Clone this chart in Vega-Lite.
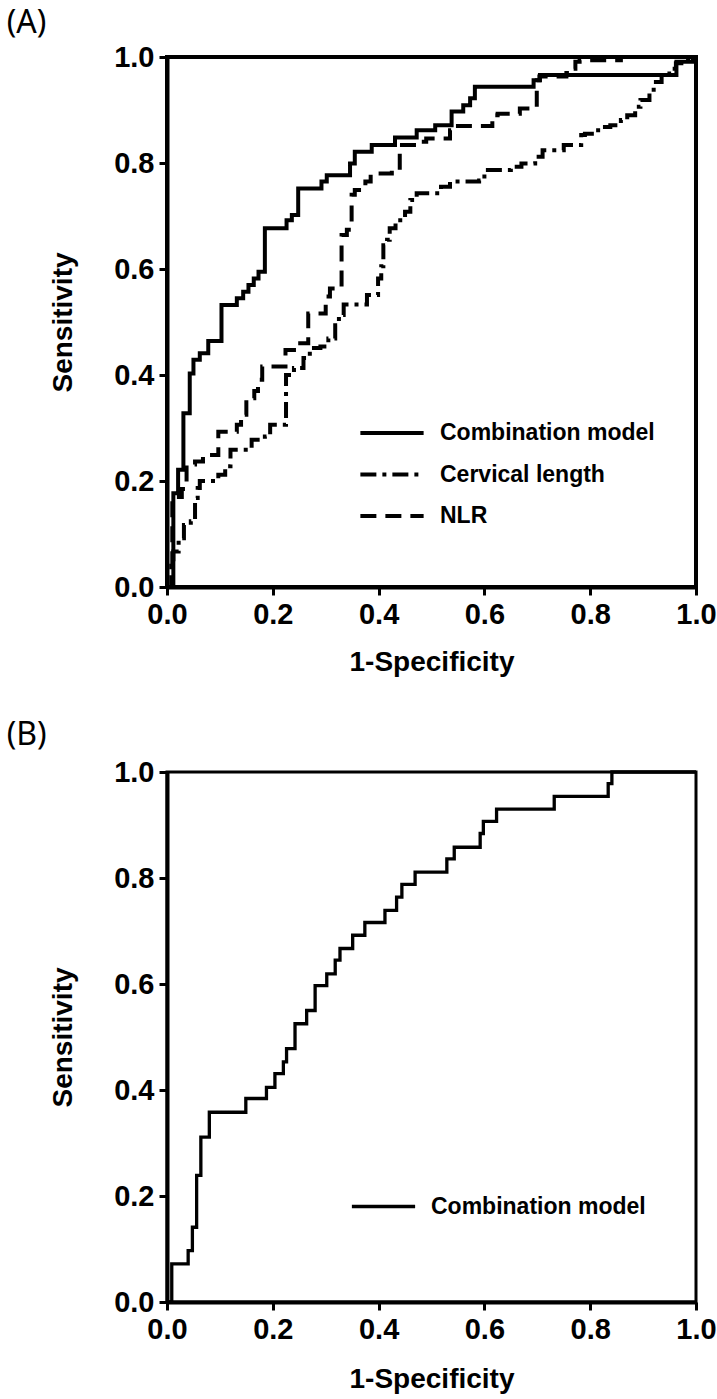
{
  "$schema": "https://vega.github.io/schema/vega-lite/v6.json",
  "background": "white",
  "padding": {"left": 4, "top": 5, "right": 5, "bottom": 0},
  "spacing": 39,
  "config": {
    "view": {"stroke": "black", "strokeWidth": 4},
    "axis": {"domainColor": "black", "domainWidth": 4, "tickColor": "black", "tickWidth": 3, "tickSize": 8, "labelFont": "Liberation Sans", "labelFontWeight": "bold", "labelFontSize": 29, "labelColor": "black", "labelPadding": 5, "titleFont": "Liberation Sans", "titleFontWeight": "bold", "titleFontSize": 28, "titleColor": "black", "grid": false},
    "legend": {"padding": 0}
  },
  "datasets": {
    "A": [
      {"series": "Combination model", "fpr": 0, "tpr": 0},
      {"series": "Combination model", "fpr": 0.012, "tpr": 0.177},
      {"series": "Combination model", "fpr": 0.021, "tpr": 0.221},
      {"series": "Combination model", "fpr": 0.031, "tpr": 0.328},
      {"series": "Combination model", "fpr": 0.043, "tpr": 0.403},
      {"series": "Combination model", "fpr": 0.05, "tpr": 0.429},
      {"series": "Combination model", "fpr": 0.062, "tpr": 0.441},
      {"series": "Combination model", "fpr": 0.078, "tpr": 0.464},
      {"series": "Combination model", "fpr": 0.103, "tpr": 0.532},
      {"series": "Combination model", "fpr": 0.132, "tpr": 0.545},
      {"series": "Combination model", "fpr": 0.144, "tpr": 0.557},
      {"series": "Combination model", "fpr": 0.154, "tpr": 0.57},
      {"series": "Combination model", "fpr": 0.164, "tpr": 0.582},
      {"series": "Combination model", "fpr": 0.173, "tpr": 0.595},
      {"series": "Combination model", "fpr": 0.185, "tpr": 0.677},
      {"series": "Combination model", "fpr": 0.226, "tpr": 0.692},
      {"series": "Combination model", "fpr": 0.236, "tpr": 0.702},
      {"series": "Combination model", "fpr": 0.248, "tpr": 0.752},
      {"series": "Combination model", "fpr": 0.292, "tpr": 0.765},
      {"series": "Combination model", "fpr": 0.302, "tpr": 0.777},
      {"series": "Combination model", "fpr": 0.346, "tpr": 0.799},
      {"series": "Combination model", "fpr": 0.355, "tpr": 0.821},
      {"series": "Combination model", "fpr": 0.387, "tpr": 0.834},
      {"series": "Combination model", "fpr": 0.431, "tpr": 0.848},
      {"series": "Combination model", "fpr": 0.472, "tpr": 0.862},
      {"series": "Combination model", "fpr": 0.507, "tpr": 0.871},
      {"series": "Combination model", "fpr": 0.538, "tpr": 0.897},
      {"series": "Combination model", "fpr": 0.56, "tpr": 0.909},
      {"series": "Combination model", "fpr": 0.573, "tpr": 0.922},
      {"series": "Combination model", "fpr": 0.582, "tpr": 0.944},
      {"series": "Combination model", "fpr": 0.693, "tpr": 0.956},
      {"series": "Combination model", "fpr": 0.705, "tpr": 0.966},
      {"series": "Combination model", "fpr": 0.963, "tpr": 0.991},
      {"series": "Combination model", "fpr": 0.994, "tpr": 1},
      {"series": "Combination model", "fpr": 1, "tpr": 1},
      {"series": "Cervical length", "fpr": 0, "tpr": 0},
      {"series": "Cervical length", "fpr": 0.008, "tpr": 0.04},
      {"series": "Cervical length", "fpr": 0.012, "tpr": 0.067},
      {"series": "Cervical length", "fpr": 0.022, "tpr": 0.092},
      {"series": "Cervical length", "fpr": 0.032, "tpr": 0.117},
      {"series": "Cervical length", "fpr": 0.045, "tpr": 0.124},
      {"series": "Cervical length", "fpr": 0.053, "tpr": 0.168},
      {"series": "Cervical length", "fpr": 0.058, "tpr": 0.187},
      {"series": "Cervical length", "fpr": 0.062, "tpr": 0.2},
      {"series": "Cervical length", "fpr": 0.097, "tpr": 0.212},
      {"series": "Cervical length", "fpr": 0.11, "tpr": 0.228},
      {"series": "Cervical length", "fpr": 0.12, "tpr": 0.259},
      {"series": "Cervical length", "fpr": 0.16, "tpr": 0.278},
      {"series": "Cervical length", "fpr": 0.185, "tpr": 0.284},
      {"series": "Cervical length", "fpr": 0.195, "tpr": 0.306},
      {"series": "Cervical length", "fpr": 0.225, "tpr": 0.4},
      {"series": "Cervical length", "fpr": 0.24, "tpr": 0.413},
      {"series": "Cervical length", "fpr": 0.258, "tpr": 0.432},
      {"series": "Cervical length", "fpr": 0.27, "tpr": 0.451},
      {"series": "Cervical length", "fpr": 0.29, "tpr": 0.454},
      {"series": "Cervical length", "fpr": 0.305, "tpr": 0.469},
      {"series": "Cervical length", "fpr": 0.318, "tpr": 0.494},
      {"series": "Cervical length", "fpr": 0.325, "tpr": 0.513},
      {"series": "Cervical length", "fpr": 0.334, "tpr": 0.533},
      {"series": "Cervical length", "fpr": 0.378, "tpr": 0.551},
      {"series": "Cervical length", "fpr": 0.399, "tpr": 0.582},
      {"series": "Cervical length", "fpr": 0.405, "tpr": 0.605},
      {"series": "Cervical length", "fpr": 0.409, "tpr": 0.645},
      {"series": "Cervical length", "fpr": 0.416, "tpr": 0.655},
      {"series": "Cervical length", "fpr": 0.421, "tpr": 0.677},
      {"series": "Cervical length", "fpr": 0.432, "tpr": 0.692},
      {"series": "Cervical length", "fpr": 0.45, "tpr": 0.708},
      {"series": "Cervical length", "fpr": 0.46, "tpr": 0.73},
      {"series": "Cervical length", "fpr": 0.472, "tpr": 0.743},
      {"series": "Cervical length", "fpr": 0.518, "tpr": 0.755},
      {"series": "Cervical length", "fpr": 0.535, "tpr": 0.765},
      {"series": "Cervical length", "fpr": 0.59, "tpr": 0.767},
      {"series": "Cervical length", "fpr": 0.6, "tpr": 0.787},
      {"series": "Cervical length", "fpr": 0.65, "tpr": 0.793},
      {"series": "Cervical length", "fpr": 0.67, "tpr": 0.799},
      {"series": "Cervical length", "fpr": 0.696, "tpr": 0.812},
      {"series": "Cervical length", "fpr": 0.71, "tpr": 0.824},
      {"series": "Cervical length", "fpr": 0.75, "tpr": 0.834},
      {"series": "Cervical length", "fpr": 0.783, "tpr": 0.853},
      {"series": "Cervical length", "fpr": 0.79, "tpr": 0.855},
      {"series": "Cervical length", "fpr": 0.815, "tpr": 0.868},
      {"series": "Cervical length", "fpr": 0.838, "tpr": 0.871},
      {"series": "Cervical length", "fpr": 0.858, "tpr": 0.881},
      {"series": "Cervical length", "fpr": 0.87, "tpr": 0.89},
      {"series": "Cervical length", "fpr": 0.885, "tpr": 0.906},
      {"series": "Cervical length", "fpr": 0.895, "tpr": 0.919},
      {"series": "Cervical length", "fpr": 0.912, "tpr": 0.934},
      {"series": "Cervical length", "fpr": 0.92, "tpr": 0.953},
      {"series": "Cervical length", "fpr": 0.935, "tpr": 0.969},
      {"series": "Cervical length", "fpr": 0.953, "tpr": 0.978},
      {"series": "Cervical length", "fpr": 0.962, "tpr": 0.988},
      {"series": "Cervical length", "fpr": 0.985, "tpr": 1},
      {"series": "Cervical length", "fpr": 1, "tpr": 1},
      {"series": "NLR", "fpr": 0, "tpr": 0},
      {"series": "NLR", "fpr": 0.01, "tpr": 0.17},
      {"series": "NLR", "fpr": 0.028, "tpr": 0.185},
      {"series": "NLR", "fpr": 0.037, "tpr": 0.231},
      {"series": "NLR", "fpr": 0.053, "tpr": 0.237},
      {"series": "NLR", "fpr": 0.068, "tpr": 0.249},
      {"series": "NLR", "fpr": 0.097, "tpr": 0.293},
      {"series": "NLR", "fpr": 0.132, "tpr": 0.306},
      {"series": "NLR", "fpr": 0.14, "tpr": 0.325},
      {"series": "NLR", "fpr": 0.15, "tpr": 0.356},
      {"series": "NLR", "fpr": 0.165, "tpr": 0.37},
      {"series": "NLR", "fpr": 0.172, "tpr": 0.391},
      {"series": "NLR", "fpr": 0.18, "tpr": 0.416},
      {"series": "NLR", "fpr": 0.224, "tpr": 0.447},
      {"series": "NLR", "fpr": 0.24, "tpr": 0.46},
      {"series": "NLR", "fpr": 0.267, "tpr": 0.516},
      {"series": "NLR", "fpr": 0.3, "tpr": 0.548},
      {"series": "NLR", "fpr": 0.308, "tpr": 0.563},
      {"series": "NLR", "fpr": 0.33, "tpr": 0.664},
      {"series": "NLR", "fpr": 0.34, "tpr": 0.674},
      {"series": "NLR", "fpr": 0.349, "tpr": 0.74},
      {"series": "NLR", "fpr": 0.355, "tpr": 0.749},
      {"series": "NLR", "fpr": 0.375, "tpr": 0.765},
      {"series": "NLR", "fpr": 0.385, "tpr": 0.78},
      {"series": "NLR", "fpr": 0.425, "tpr": 0.787},
      {"series": "NLR", "fpr": 0.44, "tpr": 0.834},
      {"series": "NLR", "fpr": 0.475, "tpr": 0.84},
      {"series": "NLR", "fpr": 0.49, "tpr": 0.846},
      {"series": "NLR", "fpr": 0.535, "tpr": 0.862},
      {"series": "NLR", "fpr": 0.55, "tpr": 0.87},
      {"series": "NLR", "fpr": 0.615, "tpr": 0.89},
      {"series": "NLR", "fpr": 0.625, "tpr": 0.893},
      {"series": "NLR", "fpr": 0.667, "tpr": 0.903},
      {"series": "NLR", "fpr": 0.699, "tpr": 0.956},
      {"series": "NLR", "fpr": 0.704, "tpr": 0.963},
      {"series": "NLR", "fpr": 0.755, "tpr": 0.97},
      {"series": "NLR", "fpr": 0.765, "tpr": 0.978},
      {"series": "NLR", "fpr": 0.772, "tpr": 0.991},
      {"series": "NLR", "fpr": 0.78, "tpr": 0.994},
      {"series": "NLR", "fpr": 0.858, "tpr": 1},
      {"series": "NLR", "fpr": 1, "tpr": 1}
    ],
    "B": [
      {"series": "Combination model", "fpr": 0, "tpr": 0},
      {"series": "Combination model", "fpr": 0.009, "tpr": 0.072},
      {"series": "Combination model", "fpr": 0.04, "tpr": 0.097},
      {"series": "Combination model", "fpr": 0.048, "tpr": 0.141},
      {"series": "Combination model", "fpr": 0.056, "tpr": 0.239},
      {"series": "Combination model", "fpr": 0.064, "tpr": 0.311},
      {"series": "Combination model", "fpr": 0.08, "tpr": 0.358},
      {"series": "Combination model", "fpr": 0.149, "tpr": 0.384},
      {"series": "Combination model", "fpr": 0.188, "tpr": 0.405},
      {"series": "Combination model", "fpr": 0.204, "tpr": 0.431},
      {"series": "Combination model", "fpr": 0.22, "tpr": 0.453},
      {"series": "Combination model", "fpr": 0.226, "tpr": 0.478},
      {"series": "Combination model", "fpr": 0.242, "tpr": 0.525},
      {"series": "Combination model", "fpr": 0.264, "tpr": 0.55},
      {"series": "Combination model", "fpr": 0.28, "tpr": 0.597},
      {"series": "Combination model", "fpr": 0.302, "tpr": 0.619},
      {"series": "Combination model", "fpr": 0.318, "tpr": 0.645},
      {"series": "Combination model", "fpr": 0.327, "tpr": 0.667},
      {"series": "Combination model", "fpr": 0.351, "tpr": 0.692},
      {"series": "Combination model", "fpr": 0.374, "tpr": 0.716},
      {"series": "Combination model", "fpr": 0.412, "tpr": 0.739},
      {"series": "Combination model", "fpr": 0.434, "tpr": 0.764},
      {"series": "Combination model", "fpr": 0.444, "tpr": 0.788},
      {"series": "Combination model", "fpr": 0.469, "tpr": 0.811},
      {"series": "Combination model", "fpr": 0.529, "tpr": 0.836},
      {"series": "Combination model", "fpr": 0.543, "tpr": 0.858},
      {"series": "Combination model", "fpr": 0.592, "tpr": 0.884},
      {"series": "Combination model", "fpr": 0.598, "tpr": 0.907},
      {"series": "Combination model", "fpr": 0.623, "tpr": 0.93},
      {"series": "Combination model", "fpr": 0.732, "tpr": 0.954},
      {"series": "Combination model", "fpr": 0.834, "tpr": 0.978},
      {"series": "Combination model", "fpr": 0.841, "tpr": 1},
      {"series": "Combination model", "fpr": 1, "tpr": 1}
    ]
  },
  "resolve": {"scale": {"x": "independent", "y": "independent", "strokeDash": "independent"}, "legend": {"strokeDash": "independent"}},
  "vconcat": [
    {
      "title": {"text": "(A)", "anchor": "start", "frame": "bounds", "font": "Noto Sans", "fontSize": 32, "fontWeight": "normal", "color": "black", "dx": -43, "offset": 3},
      "width": 529,
      "height": 530,
      "data": {"name": "A"},
      "mark": {"type": "line", "interpolate": "step-after", "color": "black", "strokeWidth": 4, "strokeCap": "butt", "strokeJoin": "miter"},
      "encoding": {
        "x": {"field": "fpr", "type": "quantitative", "scale": {"domain": [0, 1], "nice": false}, "axis": {"values": [0, 0.2, 0.4, 0.6, 0.8, 1], "format": ".1f", "labelFlush": false, "title": "1-Specificity", "titlePadding": 19}},
        "y": {"field": "tpr", "type": "quantitative", "scale": {"domain": [0, 1], "nice": false}, "axis": {"values": [0, 0.2, 0.4, 0.6, 0.8, 1], "format": ".1f", "labelFlush": false, "title": "Sensitivity", "titlePadding": 36}},
        "strokeDash": {"field": "series", "type": "nominal", "scale": {"domain": ["Combination model", "Cervical length", "NLR"], "range": [[1, 0], [16, 6, 4, 6], [16, 9]]},
          "legend": {"orient": "none", "legendX": 207, "legendY": 358, "title": null, "symbolType": "M-2,0H2", "symbolSize": 1000, "symbolStrokeWidth": 4, "symbolStrokeColor": "black", "symbolFillColor": "transparent", "labelFont": "Liberation Sans", "labelFontWeight": "bold", "labelFontSize": 23, "labelColor": "black", "labelOffset": 30, "labelLimit": 0, "rowPadding": 11.5}}
      }
    },
    {
      "title": {"text": "(B)", "anchor": "start", "frame": "bounds", "font": "Noto Sans", "fontSize": 32, "fontWeight": "normal", "color": "black", "dx": -43, "offset": 6},
      "width": 529,
      "height": 530,
      "view": {"stroke": "black", "strokeWidth": 3},
      "data": {"name": "B"},
      "mark": {"type": "line", "interpolate": "step-after", "color": "black", "strokeWidth": 3.3, "strokeCap": "butt", "strokeJoin": "miter"},
      "encoding": {
        "x": {"field": "fpr", "type": "quantitative", "scale": {"domain": [0, 1], "nice": false}, "axis": {"values": [0, 0.2, 0.4, 0.6, 0.8, 1], "format": ".1f", "labelFlush": false, "title": "1-Specificity", "titlePadding": 21}},
        "y": {"field": "tpr", "type": "quantitative", "scale": {"domain": [0, 1], "nice": false}, "axis": {"values": [0, 0.2, 0.4, 0.6, 0.8, 1], "format": ".1f", "labelFlush": false, "title": "Sensitivity", "titlePadding": 36}},
        "strokeDash": {"field": "series", "type": "nominal", "scale": {"domain": ["Combination model"], "range": [[1, 0]]},
          "legend": {"orient": "none", "legendX": 199, "legendY": 417, "title": null, "symbolType": "M-2,0H2", "symbolSize": 1000, "symbolStrokeWidth": 3.3, "symbolStrokeColor": "black", "symbolFillColor": "transparent", "labelFont": "Liberation Sans", "labelFontWeight": "bold", "labelFontSize": 23, "labelColor": "black", "labelOffset": 30, "labelLimit": 0}}
      }
    }
  ]
}
